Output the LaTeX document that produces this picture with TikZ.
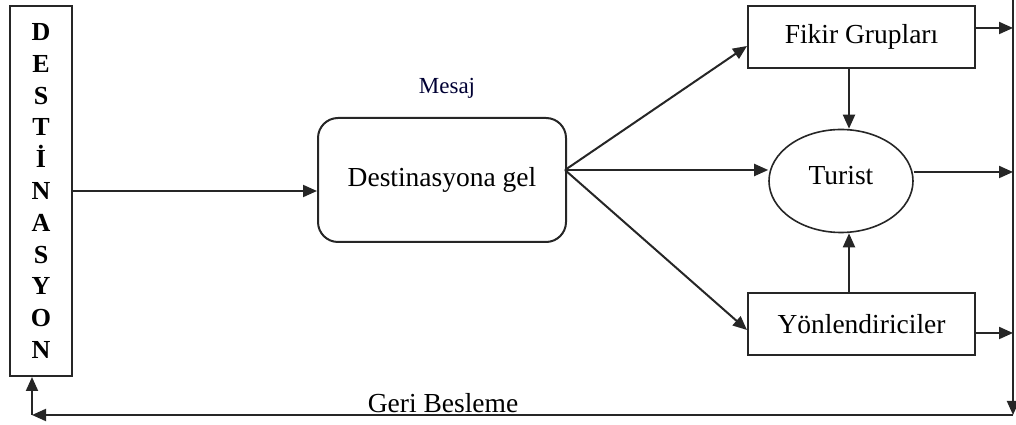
\documentclass[tikz,border=0pt]{standalone}
\usepackage{fontspec}
\setmainfont{Liberation Serif}
\usetikzlibrary{calc,shapes.geometric,arrows.meta}
\tikzset{
flowbox/.style={draw=black!85,line width=2pt,minimum width=227pt,minimum height=62pt,inner sep=0pt,font=\fontsize{27.5}{30}\selectfont},
msgbox/.style={draw=black!85,line width=2pt,rounded corners=20pt,minimum width=248pt,minimum height=124pt,inner sep=0pt,font=\fontsize{27.5}{30}\selectfont},
destbox/.style={draw=black!85,line width=2pt,minimum width=62pt,minimum height=370pt,inner sep=0pt,align=center,font=\fontsize{26}{31.8}\selectfont\bfseries},
turistshape/.style={draw=black!85,line width=1.6pt,ellipse,minimum width=144pt,minimum height=103pt,inner sep=0pt,font=\fontsize{27.5}{30}\selectfont},
plaintext/.style={font=\fontsize{27.5}{30}\selectfont,inner sep=0pt},
flowarrow/.style={-{Triangle[length=14pt,width=12pt]},line width=2pt,black!85},
flowline/.style={line width=2pt,black!85}
}
\begin{document}
\begin{tikzpicture}[x=1pt,y=1pt]
\useasboundingbox (0,0) rectangle (1016,425);
% boxes
\node[destbox] (dest) at (41,234) {D\\E\\S\\T\\İ\\N\\A\\S\\Y\\O\\N};
\node[msgbox] (msg) at (442,245) {Destinasyona gel};
\node[font=\fontsize{23}{26}\selectfont,text=black!80!blue,inner sep=0pt] (mesaj) at (447,337) {Mesaj};
\node[flowbox] (fikir) at (861.5,388) {Fikir Grupları};
\node[turistshape] (turist) at (841,244) {\raisebox{11pt}{Turist}};
\node[flowbox] (yon) at (861.5,101) {Yönlendiriciler};
\node[plaintext] (geri) at (443,22) {Geri Besleme};
% helper points
\coordinate (fan) at (565,255);
\coordinate (rtop) at (1013,425);
\coordinate (rbot) at (1013,10);
\coordinate (lbot) at (32,10);
\coordinate (fikirin) at ($(fikir.west)+(0,-9)$);
\coordinate (yonin) at ($(yon.west)+(0,-6)$);
\coordinate (fikirdown) at ($(fikir.south)+(-12.5,0)$);
\coordinate (yonup) at ($(yon.north)+(-12.5,0)$);
\coordinate (fikirout) at ($(fikir.east)+(0,9)$);
\coordinate (turistout) at ($(turist.east)+(0,9)$);
\coordinate (yonout) at ($(yon.east)+(0,-9)$);
% connectors
\draw[flowarrow] (dest.east) -- (dest.east -| msg.west);
\draw[flowarrow] (fan) -- (fikirin);
\draw[flowarrow] (fan) -- (fan -| turist.west);
\draw[flowarrow] (fan) -- (yonin);
\draw[flowarrow] (fikirdown) -- (fikirdown |- turist.north);
\draw[flowarrow] (yonup) -- (yonup |- turist.south);
\draw[flowarrow] (fikirout) -- (fikirout -| rtop);
\draw[flowarrow] (turistout) -- (turistout -| rtop);
\draw[flowarrow] (yonout) -- (yonout -| rtop);
\draw[flowarrow] (rtop) -- (rbot);
\draw[flowarrow] (rbot) -- (lbot);
\draw[flowarrow] (lbot) -- (lbot |- dest.south);
\end{tikzpicture}
\end{document}
